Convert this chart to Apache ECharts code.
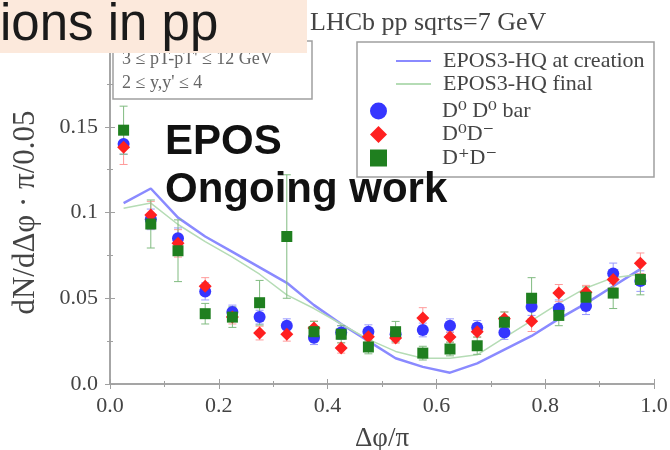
<!DOCTYPE html>
<html>
<head>
<meta charset="utf-8">
<script src="https://cdn.jsdelivr.net/npm/echarts@6/dist/echarts.min.js"></script>
<style>
html, body { margin: 0; padding: 0; background: #fff; }
#main { width: 670px; height: 450px; filter: blur(0.6px); }
</style>
</head>
<body>
<div id="main"></div>
<script>
// bin centres in delta phi / pi
var bins = [0.025, 0.075, 0.125, 0.175, 0.225, 0.275, 0.325, 0.375, 0.425, 0.475,
            0.525, 0.575, 0.625, 0.675, 0.725, 0.775, 0.825, 0.875, 0.925, 0.975];

// EPOS3-HQ curves
var atCreation = [0.1055, 0.114, 0.097, 0.086, 0.077, 0.068, 0.059, 0.046, 0.035, 0.025,
                  0.015, 0.010, 0.0066, 0.012, 0.020, 0.028, 0.038, 0.047, 0.057, 0.067];
var finalCurve = [0.1025, 0.1055, 0.093, 0.083, 0.074, 0.064, 0.052, 0.044, 0.035, 0.026,
                  0.019, 0.015, 0.015, 0.017, 0.027, 0.037, 0.047, 0.056, 0.062, 0.064];

// LHCb points
var d0d0bar    = [0.140, 0.096, 0.085, 0.054, 0.042, 0.039, 0.034, 0.027, 0.030, 0.0305,
                  0.029, 0.0315, 0.034, 0.033, 0.030, 0.045, 0.044, 0.0455, 0.0645, 0.060];
var d0d0barErr = [0.006, 0.006, 0.006, 0.005, 0.004, 0.004, 0.004, 0.004, 0.004, 0.004,
                  0.004, 0.004, 0.004, 0.004, 0.004, 0.005, 0.005, 0.005, 0.006, 0.006];
var d0dm       = [0.138, 0.0985, 0.082, 0.057, 0.039, 0.0297, 0.029, 0.0327, 0.021, 0.0276,
                  0.0268, 0.0385, 0.0274, 0.0305, 0.038, 0.0366, 0.053, 0.0535, 0.061, 0.0704];
var d0dmErr    = [0.010, 0.008, 0.008, 0.005, 0.004, 0.004, 0.004, 0.004, 0.003, 0.003,
                  0.003, 0.006, 0.003, 0.003, 0.004, 0.006, 0.005, 0.004, 0.005, 0.006];
var dpdm       = [0.148, 0.0933, 0.0777, 0.041, 0.039, 0.0474, 0.086, 0.0305, 0.029, 0.0216,
                  0.0305, 0.018, 0.0204, 0.0223, 0.036, 0.050, 0.040, 0.0506, 0.053, 0.061];
var dpdmErr    = [0.014, 0.014, 0.018, 0.006, 0.006, 0.013, 0.036, 0.006, 0.005, 0.004,
                  0.006, 0.004, 0.004, 0.005, 0.006, 0.012, 0.006, 0.006, 0.009, 0.009];

var serif = "'Liberation Serif', 'DejaVu Serif', serif";
var frame = '#a0a0a0';

function pairs(vals) {
  return bins.map(function (x, i) { return [x, vals[i]]; });
}

function errorBars(vals, errs, color) {
  return {
    type: 'custom',
    silent: true,
    z: 2,
    data: bins.map(function (x, i) { return [x, vals[i] - errs[i], vals[i] + errs[i]]; }),
    encode: { x: 0, y: [1, 2] },
    renderItem: function (params, api) {
      var lo = api.coord([api.value(0), api.value(1)]);
      var hi = api.coord([api.value(0), api.value(2)]);
      var s = { stroke: color, lineWidth: 1 };
      return {
        type: 'group',
        children: [
          { type: 'line', shape: { x1: lo[0], y1: lo[1], x2: hi[0], y2: hi[1] }, style: s },
          { type: 'line', shape: { x1: lo[0] - 4, y1: lo[1], x2: lo[0] + 4, y2: lo[1] }, style: s },
          { type: 'line', shape: { x1: hi[0] - 4, y1: hi[1], x2: hi[0] + 4, y2: hi[1] }, style: s }
        ]
      };
    }
  };
}

function frameAxis(extra) {
  var a = {
    type: 'value',
    axisLine: { show: true, lineStyle: { color: frame, width: 1.5 } },
    axisTick: { show: true, inside: true, length: 5, lineStyle: { color: frame } },
    minorTick: { show: true, splitNumber: 2, length: 3, lineStyle: { color: frame } },
    splitLine: { show: false },
    axisLabel: { show: false }
  };
  for (var k in extra) a[k] = extra[k];
  return a;
}

var chart = echarts.init(document.getElementById('main'));

var option = {
  backgroundColor: '#fff',
  animation: false,
  title: {
    text: 'LHCb pp sqrts=7 GeV',
    left: 305,
    top: 5,
    textStyle: { fontFamily: serif, fontSize: 26, fontWeight: 'normal', color: '#444' }
  },
  grid: { left: 110, right: 16, top: 41, bottom: 66, outerBoundsMode: 'none' },
  legend: [
    {
      data: ['EPOS3-HQ at creation', 'EPOS3-HQ final'],
      orient: 'vertical',
      left: 395,
      top: 50,
      padding: 0,
      z: 10,
      itemWidth: 35,
      itemHeight: 14,
      itemGap: 1,
      itemStyle: { opacity: 0 },
      textStyle: { fontFamily: serif, fontSize: 22, lineHeight: 22, color: '#444', padding: [0, 0, 0, 7] }
    },
    {
      data: ['D⁰ D⁰ bar', 'D⁰D⁻', 'D⁺D⁻'],
      orient: 'vertical',
      left: 370,
      top: 100,
      padding: 0,
      z: 10,
      itemWidth: 17,
      itemHeight: 17,
      itemGap: 1.5,
      textStyle: { fontFamily: serif, fontSize: 22, lineHeight: 22, color: '#444', padding: [0, 0, 0, 50] }
    }
  ],
  xAxis: [
    frameAxis({
      min: 0, max: 1, interval: 0.2,
      axisLabel: {
        show: true, margin: 11, fontFamily: serif, fontSize: 22, color: '#444',
        formatter: function (v) { return v.toFixed(1); }
      },
      name: 'Δφ/π',
      nameLocation: 'middle',
      nameGap: 41,
      nameTextStyle: { fontFamily: serif, fontSize: 27, color: '#444' }
    }),
    frameAxis({ min: 0, max: 1, interval: 0.2, position: 'top' })
  ],
  yAxis: [
    frameAxis({
      min: 0, max: 0.2, interval: 0.05,
      axisLabel: {
        show: true, margin: 12, fontFamily: serif, fontSize: 22, color: '#444',
        formatter: function (v) {
          if (v === 0) return '0.0';
          if (v > 0.19) return '';
          return String(+v.toFixed(2));
        }
      },
      name: 'dN/dΔφ · π/0.05',
      nameLocation: 'middle',
      nameGap: 69,
      nameTextStyle: { fontFamily: serif, fontSize: 31, color: '#444' }
    }),
    frameAxis({ min: 0, max: 0.2, interval: 0.05, position: 'right' })
  ],
  graphic: [
    // pT / rapidity cut box
    { type: 'rect', z: 1, shape: { x: 113, y: 41, width: 199, height: 58 },
      style: { fill: 'none', stroke: frame, lineWidth: 1.5 } },
    { type: 'text', z: 6, left: 122, top: 50,
      style: { text: "3 ≤ pT-pT' ≤ 12 GeV", font: '18px ' + serif, fill: '#666' } },
    { type: 'text', z: 6, left: 122, top: 74,
      style: { text: "2 ≤ y,y' ≤ 4", font: '18px ' + serif, fill: '#666' } },
    // legend frame
    { type: 'rect', z: 1, shape: { x: 357, y: 42, width: 297, height: 135 },
      style: { fill: 'none', stroke: frame, lineWidth: 1.5 } },
    // annotation
    { type: 'text', z: 20, left: 165, top: 121,
      style: { text: 'EPOS', font: "bold 42px 'Liberation Sans', Arial, sans-serif", fill: '#111' } },
    { type: 'text', z: 20, left: 165, top: 169,
      style: { text: 'Ongoing work', font: "bold 42px 'Liberation Sans', Arial, sans-serif", fill: '#111' } },
    // slide header overlay
    { type: 'rect', z: 30, shape: { x: 0, y: 0, width: 307, height: 53 },
      style: { fill: '#fce9dc' } },
    { type: 'text', z: 31, left: 0, top: 0,
      style: { text: 'ions in pp', font: "51px 'Liberation Sans', Arial, sans-serif", fill: '#1a1a1a' } }
  ],
  series: [
    {
      name: 'EPOS3-HQ at creation',
      type: 'line',
      data: pairs(atCreation),
      symbol: 'none',
      z: 1,
      lineStyle: { color: '#8a8aff', width: 2.5 },
      itemStyle: { color: '#8a8aff' }
    },
    {
      name: 'EPOS3-HQ final',
      type: 'line',
      data: pairs(finalCurve),
      symbol: 'none',
      z: 1,
      lineStyle: { color: '#b5dcb5', width: 1.5 },
      itemStyle: { color: '#b5dcb5' }
    },
    errorBars(d0d0bar, d0d0barErr, '#9a9aff'),
    errorBars(d0dm, d0dmErr, '#ff9a9a'),
    errorBars(dpdm, dpdmErr, '#80bb80'),
    {
      name: 'D⁰ D⁰ bar', type: 'scatter', data: pairs(d0d0bar),
      symbol: 'circle', symbolSize: 12, z: 3,
      itemStyle: { color: '#3535ff', opacity: 1 }
    },
    {
      name: 'D⁰D⁻', type: 'scatter', data: pairs(d0dm),
      symbol: 'diamond', symbolSize: 13, z: 3,
      itemStyle: { color: '#ff2020', opacity: 1 }
    },
    {
      name: 'D⁺D⁻', type: 'scatter', data: pairs(dpdm),
      symbol: 'rect', symbolSize: 11, z: 3,
      itemStyle: { color: '#1f7f1f', opacity: 1 }
    }
  ]
};

chart.setOption(option);
</script>
</body>
</html>
